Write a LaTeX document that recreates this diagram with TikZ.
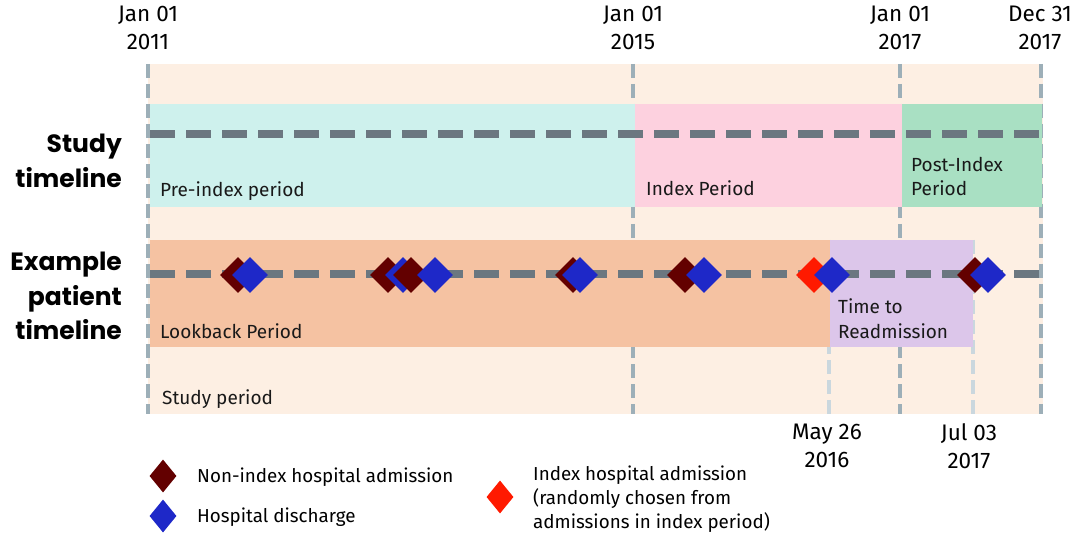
\documentclass[tikz,border=0pt]{standalone}
\usepackage{fontspec}
\setmainfont{Fira Sans}
\newfontfamily\headfont{Poppins}
\usetikzlibrary{shapes.geometric}
\definecolor{bgpeach}{HTML}{FDEFE3}
\definecolor{precyan}{HTML}{CEF1ED}
\definecolor{idxpink}{HTML}{FDD1DF}
\definecolor{postgreen}{HTML}{A9E0C3}
\definecolor{lookorange}{HTML}{F5C2A2}
\definecolor{readlav}{HTML}{DCC6EA}
\definecolor{vline}{HTML}{9DAFB8}
\definecolor{vlight}{HTML}{CAD7DE}
\definecolor{tline}{HTML}{6B7780}
\definecolor{admred}{HTML}{630000}
\definecolor{disblue}{HTML}{1E28C8}
\definecolor{idxred}{HTML}{FF1A00}
\tikzset{
  band/.style={fill=#1, draw=none, inner sep=0pt, anchor=north west},
  vdash/.style={draw=vline, line width=4.5pt, dash pattern=on 14pt off 6pt},
  vdashlight/.style={draw=vlight, line width=4.5pt, dash pattern=on 14pt off 6pt},
  tdash/.style={draw=tline, line width=8pt, dash pattern=on 25pt off 11pt},
  dia/.style={diamond, fill=#1, draw=none, inner sep=0pt, minimum width=36pt, minimum height=36pt},
  legdia/.style={diamond, fill=#1, draw=none, inner sep=0pt, minimum width=27pt, minimum height=33pt},
  datelbl/.style={align=center, font=\fontsize{22.5}{28}\selectfont, text=black, anchor=north},
  bandlbl/.style={align=left, font=\fontsize{19}{24.5}\selectfont, text=black!90, anchor=base west, inner sep=0pt},
  headlbl/.style={align=right, font=\headfont\bfseries\fontsize{25}{34.5}\selectfont, anchor=east, inner sep=0pt},
  leglbl/.style={align=left, font=\fontsize{18.8}{24}\selectfont, anchor=west, inner sep=0pt},
}
\begin{document}
\begin{tikzpicture}[x=1pt,y=-1pt]
\useasboundingbox (0,0) rectangle (1081,537);
% background study period
\fill[bgpeach] (148,64) rectangle (1043,414);
% vertical lines
\coordinate (v1t) at (148,64); \coordinate (v1b) at (148,414);
\coordinate (v2t) at (633,64); \coordinate (v2b) at (633,414);
\coordinate (v3t) at (900,64); \coordinate (v3b) at (900,414);
\coordinate (v4t) at (1041,64); \coordinate (v4b) at (1041,414);
\coordinate (v5t) at (829,240); \coordinate (v5b) at (829,414);
\coordinate (v6t) at (973,240); \coordinate (v6b) at (973,414);
\draw[vdash] (v1t) -- (v1b);
\draw[vdash] (v2t) -- (v2b);
\draw[vdash] (v3t) -- (v3b);
\draw[vdash] (v4t) -- (v4b);
\draw[vdashlight] (v5t) -- (v5b);
\draw[vdashlight] (v6t) -- (v6b);
% study timeline bands
\node[band=precyan, minimum width=485pt, minimum height=103pt] (pre) at (150,104) {};
\node[band=idxpink, minimum width=267pt, minimum height=103pt] (idx) at (635,104) {};
\node[band=postgreen, minimum width=140pt, minimum height=103pt] (post) at (902,104) {};
% patient bands
\node[band=lookorange, minimum width=680pt, minimum height=107pt] (look) at (150,240) {};
\node[band=readlav, minimum width=143pt, minimum height=107pt] (read) at (830,240) {};
% timelines
\coordinate (s1) at (150,134); \coordinate (s2) at (1040,134);
\coordinate (p1) at (150,274); \coordinate (p2) at (1040,274);
\draw[tdash] (s1) -- (s2);
\draw[tdash] (p1) -- (p2);
% events
\node[dia=admred] (a1) at (238,275) {};
\node[dia=disblue] (d1) at (250,275) {};
\node[dia=admred] (a2) at (388,275) {};
\node[dia=disblue] (d2) at (403,275) {};
\node[dia=admred] (a3) at (411,275) {};
\node[dia=disblue] (d3) at (435,275) {};
\node[dia=admred] (a4) at (573,275) {};
\node[dia=disblue] (d4) at (580,275) {};
\node[dia=admred] (a5) at (685,275) {};
\node[dia=disblue] (d5) at (704,275) {};
\node[dia=idxred] (ix) at (814,275) {};
\node[dia=disblue] (d6) at (832,275) {};
\node[dia=admred] (a6) at (975,275) {};
\node[dia=disblue] (d7) at (988,275) {};
% date labels
\node[datelbl] (t1) at (148,2) {Jan 01\\2011};
\node[datelbl] (t2) at (633,2) {Jan 01\\2015};
\node[datelbl] (t3) at (900,2) {Jan 01\\2017};
\node[datelbl] (t4) at (1040,2) {Dec 31\\2017};
\node[datelbl] (t5) at (827,420) {May 26\\2016};
\node[datelbl] (t6) at (969,420) {Jul 03\\2017};
% band labels
\node[bandlbl] (lpre) at (160,197) {Pre-index period};
\node[bandlbl] (lidx) at (646,196) {Index Period};
\node[bandlbl] (lpost) at (911,196) {Post-Index\\Period};
\node[bandlbl] (llook) at (160,338) {Lookback Period};
\node[bandlbl] (lread) at (838,338) {Time to\\Readmission};
\node[bandlbl] (lstudy) at (162,404) {Study period};
% headings
\node[headlbl] (hs) at (122,161) {Study\\timeline};
\node[headlbl] (hp) at (122,296) {Example\\patient\\timeline};
% legend
\node[legdia=admred] (ga) at (163,476) {};
\node[legdia=disblue] (gd) at (163,516) {};
\node[legdia=idxred] (gi) at (500,497) {};
\node[leglbl] (la) at (197,477) {Non-index hospital admission};
\node[leglbl] (ld) at (197,517) {Hospital discharge};
\node[leglbl] (li) at (533,499) {Index hospital admission\\(randomly chosen from\\admissions in index period)};
\end{tikzpicture}
\end{document}
